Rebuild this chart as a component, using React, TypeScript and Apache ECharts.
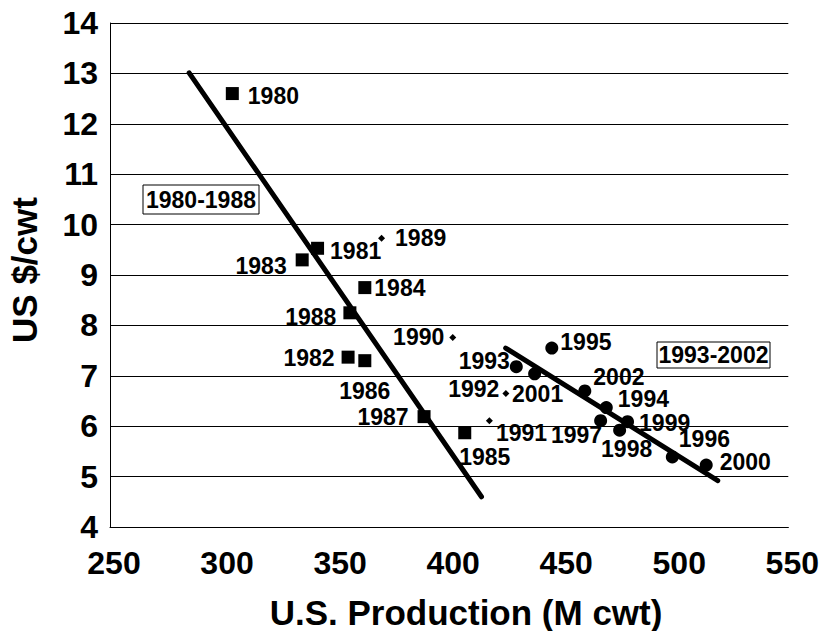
import React, { useEffect, useRef } from "react";
import * as echarts from "echarts";

// 1980-1988 (squares)
const sqYears = ["1980", "1981", "1982", "1983", "1984", "1985", "1986", "1987", "1988"];
const sqProd = [304.1, 341.8, 355.3, 335.0, 362.7, 406.9, 362.7, 388.9, 356.1];
const sqPrice = [12.6, 9.53, 7.37, 9.3, 8.75, 5.87, 7.3, 6.19, 8.25];

// 1989-1992 (small diamonds)
const dmYears = ["1989", "1990", "1991", "1992"];
const dmProd = [370.1, 401.6, 417.8, 425.1];
const dmPrice = [9.73, 7.76, 6.11, 6.65];

// 1993-2002 (circles)
const ciYears = ["1993", "1994", "1995", "1996", "1997", "1998", "1999", "2000", "2001", "2002"];
const ciProd = [429.7, 469.5, 445.4, 498.7, 467.0, 475.4, 478.9, 513.7, 437.8, 460.0];
const ciPrice = [7.18, 6.37, 7.55, 5.39, 6.11, 5.92, 6.09, 5.23, 7.04, 6.7];

// trend lines (endpoints)
const trend8088Prod = [285.0, 414.3];
const trend8088Price = [13.01, 4.6];
const trend9302Prod = [425.0, 518.8];
const trend9302Price = [7.55, 4.92];

const xTicks = [250, 300, 350, 400, 450, 500, 550];
const yTicks = [4, 5, 6, 7, 8, 9, 10, 11, 12, 13, 14];

const FONT = "Liberation Sans, Arial, Helvetica, sans-serif";

type Placement = { position: string; distance: number; offset: [number, number] };
const placement: Record<string, Placement> = {
  "1980": { position: "right", distance: 9, offset: [0, 2] },
  "1981": { position: "right", distance: 6, offset: [0, 3] },
  "1982": { position: "left", distance: 7, offset: [0, 1] },
  "1983": { position: "left", distance: 9, offset: [0, 6] },
  "1984": { position: "right", distance: 3, offset: [0, 0] },
  "1985": { position: "bottom", distance: 6, offset: [20, 0] },
  "1986": { position: "bottom", distance: 12, offset: [0, 0] },
  "1987": { position: "left", distance: 9, offset: [0, 0] },
  "1988": { position: "left", distance: 7, offset: [0, 4] },
  "1989": { position: "right", distance: 10, offset: [0, 0] },
  "1990": { position: "left", distance: 5, offset: [0, 0] },
  "1991": { position: "right", distance: 3, offset: [0, 12] },
  "1992": { position: "left", distance: 3, offset: [0, -4] },
  "1993": { position: "left", distance: 0, offset: [0, -6] },
  "1994": { position: "right", distance: 5, offset: [0, -9] },
  "1995": { position: "right", distance: 2, offset: [0, -6] },
  "1996": { position: "right", distance: 0, offset: [0, -18] },
  "1997": { position: "left", distance: 0, offset: [8, 14] },
  "1998": { position: "bottom", distance: 1, offset: [7, 0] },
  "1999": { position: "right", distance: 5, offset: [0, 1] },
  "2000": { position: "right", distance: 7, offset: [0, -3] },
  "2001": { position: "bottom", distance: 2, offset: [3, 0] },
  "2002": { position: "right", distance: 2, offset: [0, -14] },
};

const labelStyle = {
  show: true,
  color: "#000",
  fontFamily: FONT,
  fontWeight: "bold" as const,
  fontSize: 23,
};

function buildPoints(years: string[], xs: number[], ys: number[]) {
  return years.map((yr, i) => {
    const p = placement[yr];
    return {
      value: [xs[i], ys[i]],
      name: yr,
      label: { ...labelStyle, formatter: yr, position: p.position, distance: p.distance, offset: p.offset },
    };
  });
}

export default function App() {
  const ref = useRef<HTMLDivElement>(null);
  useEffect(() => {
    if (!ref.current) return;
    const chart = echarts.init(ref.current, undefined, { renderer: "svg" });
    chart.setOption({
      animation: false,
      backgroundColor: "#fff",
      grid: { left: 110, top: 23, right: 33, bottom: 104, containLabel: false },
      xAxis: {
        type: "value",
        min: xTicks[0],
        max: xTicks[xTicks.length - 1],
        interval: 50,
        axisLine: { show: true, lineStyle: { color: "#000", width: 1 } },
        axisTick: { show: false },
        splitLine: { show: false },
        axisLabel: {
          color: "#000",
          fontFamily: FONT,
          fontWeight: "bold",
          fontSize: 32,
          margin: 20,
          padding: [0, 0, 0, 8],
        },
      },
      yAxis: {
        type: "value",
        min: yTicks[0],
        max: yTicks[yTicks.length - 1],
        interval: 1,
        axisLine: { show: true, lineStyle: { color: "#000", width: 1 } },
        axisTick: { show: false },
        splitLine: { show: true, lineStyle: { color: "#000", width: 1 } },
        axisLabel: { color: "#000", fontFamily: FONT, fontWeight: "bold", fontSize: 32, margin: 12 },
      },
      series: [
        {
          type: "line",
          data: trend8088Prod.map((x, i) => [x, trend8088Price[i]]),
          showSymbol: false,
          symbol: "none",
          lineStyle: { color: "#000", width: 5, cap: "round" },
          z: 3,
        },
        {
          type: "line",
          data: trend9302Prod.map((x, i) => [x, trend9302Price[i]]),
          showSymbol: false,
          symbol: "none",
          lineStyle: { color: "#000", width: 5, cap: "round" },
          z: 3,
        },
        {
          type: "scatter",
          symbol: "rect",
          symbolSize: 13,
          itemStyle: { color: "#000", opacity: 1 },
          data: buildPoints(sqYears, sqProd, sqPrice),
          z: 4,
        },
        {
          type: "scatter",
          symbol: "diamond",
          symbolSize: 7,
          itemStyle: { color: "#000", opacity: 1 },
          data: buildPoints(dmYears, dmProd, dmPrice),
          z: 4,
        },
        {
          type: "scatter",
          symbol: "circle",
          symbolSize: 13,
          itemStyle: { color: "#000", opacity: 1 },
          data: buildPoints(ciYears, ciProd, ciPrice),
          z: 4,
        },
      ],
      graphic: [
        {
          type: "text",
          x: 466,
          y: 612,
          style: {
            text: "U.S. Production (M cwt)",
            fill: "#000",
            font: `bold 35px ${FONT}`,
            textAlign: "center",
            textVerticalAlign: "middle",
          },
        },
        {
          type: "text",
          x: 24,
          y: 270,
          rotation: Math.PI / 2,
          style: {
            text: "US $/cwt",
            fill: "#000",
            font: `bold 35px ${FONT}`,
            textAlign: "center",
            textVerticalAlign: "middle",
          },
        },
        {
          type: "rect",
          shape: { x: 143, y: 185, width: 116, height: 29 },
          style: { fill: "#fff", stroke: "#000", lineWidth: 1 },
          z: 10,
        },
        {
          type: "text",
          x: 201,
          y: 200,
          style: {
            text: "1980-1988",
            fill: "#000",
            font: `bold 23px ${FONT}`,
            textAlign: "center",
            textVerticalAlign: "middle",
          },
          z: 11,
        },
        {
          type: "rect",
          shape: { x: 657, y: 342, width: 113, height: 26 },
          style: { fill: "#fff", stroke: "#000", lineWidth: 1 },
          z: 10,
        },
        {
          type: "text",
          x: 713.5,
          y: 355,
          style: {
            text: "1993-2002",
            fill: "#000",
            font: `bold 23px ${FONT}`,
            textAlign: "center",
            textVerticalAlign: "middle",
          },
          z: 11,
        },
      ],
    });
    return () => chart.dispose();
  }, []);
  return (
    <div
      ref={ref}
      style={{ position: "fixed", left: 0, top: 0, width: 822, height: 631, background: "#fff" }}
    />
  );
}
